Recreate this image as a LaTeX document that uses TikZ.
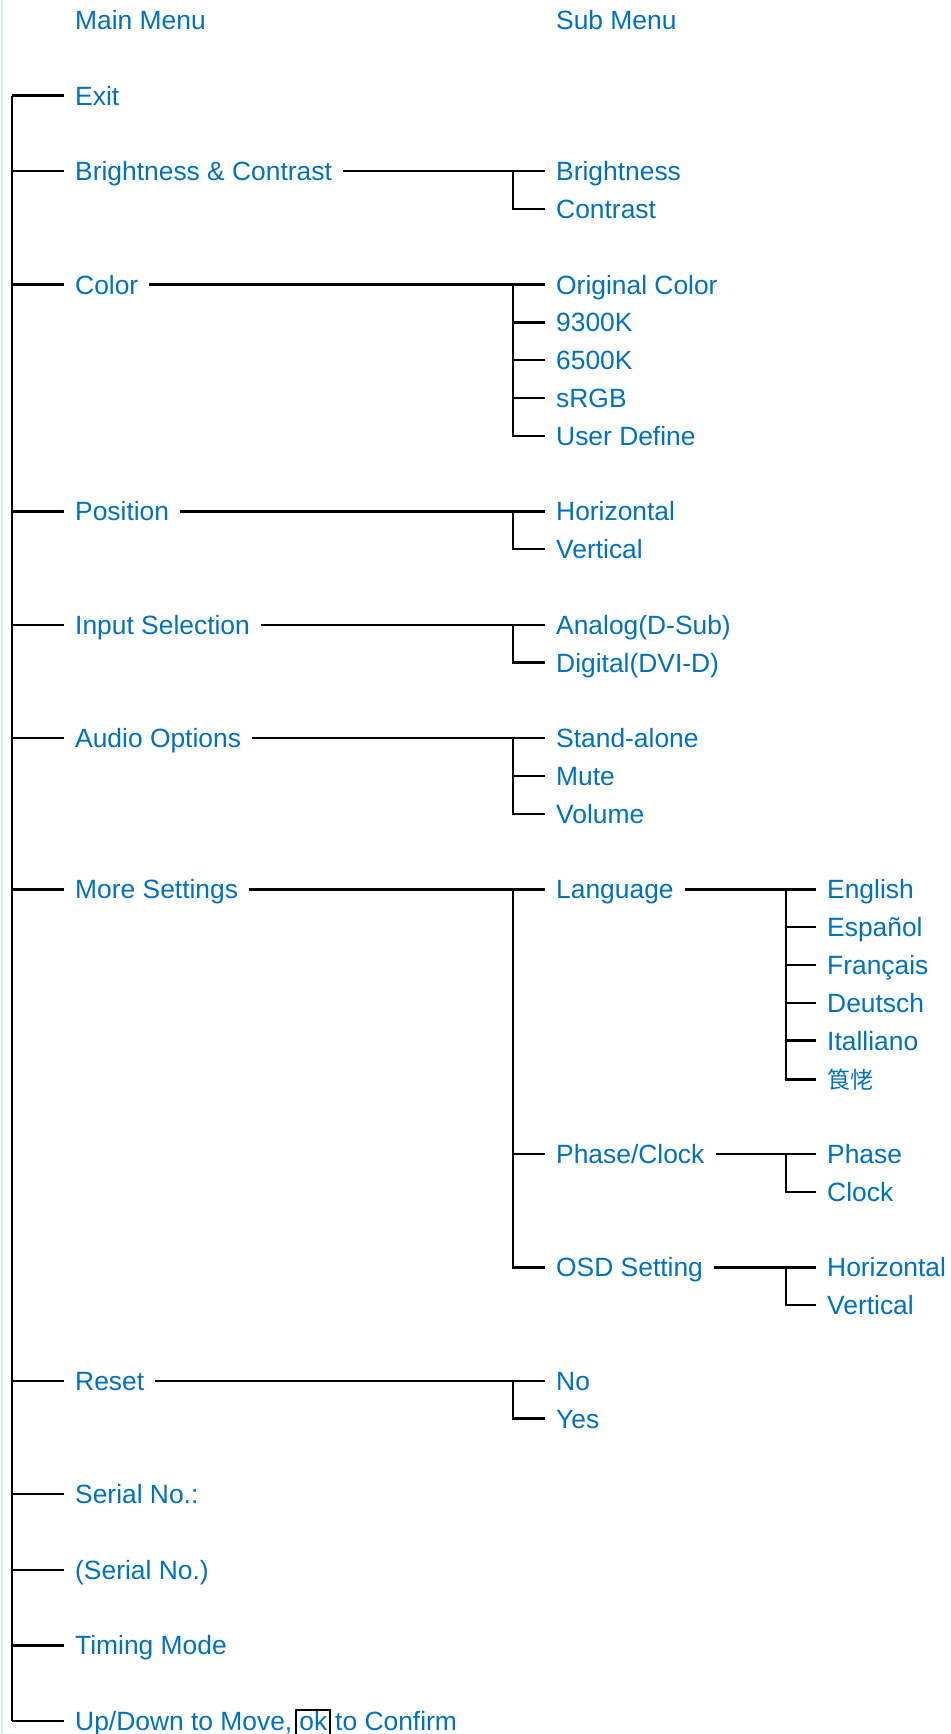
\documentclass[tikz,border=0pt]{standalone}
\usepackage{fontspec}
\setmainfont{Liberation Sans}
\newfontfamily\cjk{Noto Sans CJK SC}
\definecolor{menublue}{RGB}{0,112,192}
\definecolor{edgeblue}{RGB}{220,232,248}
\newcommand\rowy[1]{20+37.8*#1}
\begin{document}
\begin{tikzpicture}[x=1pt,y=-1pt,
  lbl/.style={font=\fontsize{26.4}{30}\selectfont, text=menublue, inner xsep=11pt, inner ysep=0pt,
              text height=19pt, text depth=0pt, anchor=west},
  conn/.style={draw=black, line width=2.4pt}]
\useasboundingbox (0,0) rectangle (950,1734);
\draw[edgeblue, line width=1.2pt] (2,0) -- (2,1734);

% column anchors
\coordinate (T) at (12,0);
\coordinate (S) at (513,0);
\coordinate (U) at (786,0);

% headings
\node[lbl] (mainmenu) at (64,\rowy{0}) {Main Menu};
\node[lbl] (submenu) at (545,\rowy{0}) {Sub Menu};

% main menu
\node[lbl] (exit) at (64,\rowy{2}) {Exit};
\node[lbl] (bc) at (64,\rowy{4}) {Brightness \& Contrast};
\node[lbl] (color) at (64,\rowy{7}) {Color};
\node[lbl] (pos) at (64,\rowy{13}) {Position};
\node[lbl] (input) at (64,\rowy{16}) {Input Selection};
\node[lbl] (audio) at (64,\rowy{19}) {Audio Options};
\node[lbl] (more) at (64,\rowy{23}) {More Settings};
\node[lbl] (reset) at (64,\rowy{36}) {Reset};
\node[lbl] (serial) at (64,\rowy{39}) {Serial No.:};
\node[lbl] (serialno) at (64,\rowy{41}) {(Serial No.)};
\node[lbl] (timing) at (64,\rowy{43}) {Timing Mode};
\node[lbl] (updown) at (64,\rowy{45}) {Up/Down to Move,\hspace{3pt}{\setlength{\fboxsep}{0pt}\setlength{\fboxrule}{2pt}\color{black}\fbox{\rule[-8pt]{0pt}{23pt}\hspace{2pt}\color{menublue}ok\hspace{2pt}}}\hspace{4pt}to Confirm};

% sub menu
\node[lbl] (bright) at (545,\rowy{4}) {Brightness};
\node[lbl] (contr) at (545,\rowy{5}) {Contrast};
\node[lbl] (orig) at (545,\rowy{7}) {Original Color};
\node[lbl] (k93) at (545,\rowy{8}) {9300K};
\node[lbl] (k65) at (545,\rowy{9}) {6500K};
\node[lbl] (srgb) at (545,\rowy{10}) {sRGB};
\node[lbl] (userdef) at (545,\rowy{11}) {User Define};
\node[lbl] (horiz) at (545,\rowy{13}) {Horizontal};
\node[lbl] (vert) at (545,\rowy{14}) {Vertical};
\node[lbl] (analog) at (545,\rowy{16}) {Analog(D-Sub)};
\node[lbl] (digital) at (545,\rowy{17}) {Digital(DVI-D)};
\node[lbl] (stand) at (545,\rowy{19}) {Stand-alone};
\node[lbl] (mute) at (545,\rowy{20}) {Mute};
\node[lbl] (volume) at (545,\rowy{21}) {Volume};
\node[lbl] (lang) at (545,\rowy{23}) {Language};
\node[lbl] (phasec) at (545,\rowy{30}) {Phase/Clock};
\node[lbl] (osd) at (545,\rowy{33}) {OSD Setting};
\node[lbl] (no) at (545,\rowy{36}) {No};
\node[lbl] (yes) at (545,\rowy{37}) {Yes};

% third level
\node[lbl] (english) at (816,\rowy{23}) {English};
\node[lbl] (espanol) at (816,\rowy{24}) {Español};
\node[lbl] (francais) at (816,\rowy{25}) {Français};
\node[lbl] (deutsch) at (816,\rowy{26}) {Deutsch};
\node[lbl] (italiano) at (816,\rowy{27}) {Italliano};
\node[lbl, font=\cjk\fontsize{23}{26}\selectfont, text height=18pt] (chinese) at (816,{\rowy{28}+1}) {筤恅};
\node[lbl] (phase) at (816,\rowy{30}) {Phase};
\node[lbl] (clock) at (816,\rowy{31}) {Clock};
\node[lbl] (osdh) at (816,\rowy{33}) {Horizontal};
\node[lbl] (osdv) at (816,\rowy{34}) {Vertical};

% main trunk
\draw[conn] (T |- exit.west) -- (T |- updown.west);
\foreach \n in {exit,bc,color,pos,input,audio,more,reset,serial,serialno,timing,updown}
  \draw[conn] (T |- \n.west) -- (\n.west);

% main -> sub links
\draw[conn] (bc.east) -- (bright.west);
\draw[conn] (color.east) -- (orig.west);
\draw[conn] (pos.east) -- (horiz.west);
\draw[conn] (input.east) -- (analog.west);
\draw[conn] (audio.east) -- (stand.west);
\draw[conn] (more.east) -- (lang.west);
\draw[conn] (reset.east) -- (no.west);

% sub brackets
\draw[conn] (S |- bright.west) |- (contr.west);
\draw[conn] (S |- orig.west) |- (userdef.west);
\foreach \n in {k93,k65,srgb} \draw[conn] (S |- \n.west) -- (\n.west);
\draw[conn] (S |- horiz.west) |- (vert.west);
\draw[conn] (S |- analog.west) |- (digital.west);
\draw[conn] (S |- stand.west) |- (volume.west);
\draw[conn] (S |- mute.west) -- (mute.west);
\draw[conn] (S |- lang.west) |- (osd.west);
\draw[conn] (S |- phasec.west) -- (phasec.west);
\draw[conn] (S |- no.west) |- (yes.west);

% sub -> third links
\draw[conn] (lang.east) -- (english.west);
\draw[conn] (phasec.east) -- (phase.west);
\draw[conn] (osd.east) -- (osdh.west);

% third brackets
\draw[conn] (U |- english.west) |- (chinese.west);
\foreach \n in {espanol,francais,deutsch,italiano} \draw[conn] (U |- \n.west) -- (\n.west);
\draw[conn] (U |- phase.west) |- (clock.west);
\draw[conn] (U |- osdh.west) |- (osdv.west);
\end{tikzpicture}
\end{document}
